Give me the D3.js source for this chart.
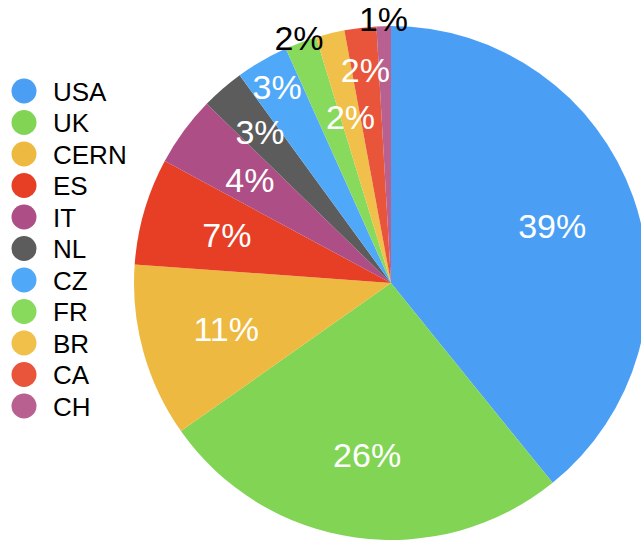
<!DOCTYPE html>
<html>
<head>
<meta charset="utf-8">
<script src="https://cdn.jsdelivr.net/npm/d3@7"></script>
<style>
  html, body { margin: 0; padding: 0; background: #fff; }
  svg { display: block; font-family: "Liberation Sans", Arial, Helvetica, sans-serif; }
</style>
</head>
<body>
<svg id="chart" width="641" height="541"></svg>
<script>
const categories = ["USA", "UK", "CERN", "ES", "IT", "NL", "CZ", "FR", "BR", "CA", "CH"];
const values = [39.1, 26.0, 10.9, 6.7, 4.4, 2.7, 3.3, 2.0, 1.8, 2.0, 0.9];
const colors = ["#4a9ff5", "#82d455", "#eeb940", "#e63f26", "#ad4f86", "#5c5c5c",
                "#4fa9f8", "#88da5c", "#f0c04a", "#e8553a", "#b8608f"];

// label layout (radius in px from center, and whether the label sits outside)
const labelRadius = [171, 173, 171, 171, 175, 200, 227, 262, 171, 215, 264];
const labelOutside = [false, false, false, false, false, false, false, true, false, false, true];

const svg = d3.select("#chart");
const cx = 391, cy = 283, R = 257;

const total = d3.sum(values);
const data = categories.map((c, i) => ({ name: c, value: values[i], i }));

const color = d3.scaleOrdinal().domain(categories).range(colors);

const pie = d3.pie().value(d => d.value).sort(null);
const arcs = pie(data);
const arc = d3.arc().innerRadius(0).outerRadius(R);

const g = svg.append("g").attr("transform", `translate(${cx},${cy})`);

g.selectAll("path.slice")
  .data(arcs)
  .join("path")
  .attr("class", "slice")
  .attr("d", arc)
  .attr("fill", d => color(d.data.name));

g.selectAll("text.lbl")
  .data(arcs)
  .join("text")
  .attr("class", "lbl")
  .attr("transform", d => {
    const r = labelRadius[d.data.i];
    const c = d3.arc().innerRadius(r).outerRadius(r).centroid(d);
    return `translate(${c[0]},${c[1]})`;
  })
  .attr("text-anchor", "middle")
  .attr("dy", "0.36em")
  .attr("font-size", 34)
  .attr("fill", d => labelOutside[d.data.i] ? "#000" : "#fff")
  .text(d => Math.round(d.data.value / total * 100) + "%");

// legend
const legend = svg.append("g");
const ly = d3.scalePoint().domain(categories).range([91, 406]);
const rows = legend.selectAll("g.row")
  .data(categories)
  .join("g")
  .attr("class", "row")
  .attr("transform", d => `translate(0,${ly(d)})`);
rows.append("circle")
  .attr("cx", 24).attr("cy", 0).attr("r", 12.5)
  .attr("fill", d => color(d));
rows.append("text")
  .attr("x", 53).attr("y", 0).attr("dy", "0.38em")
  .attr("font-size", 26)
  .attr("fill", "#000")
  .text(d => d);
</script>
</body>
</html>
